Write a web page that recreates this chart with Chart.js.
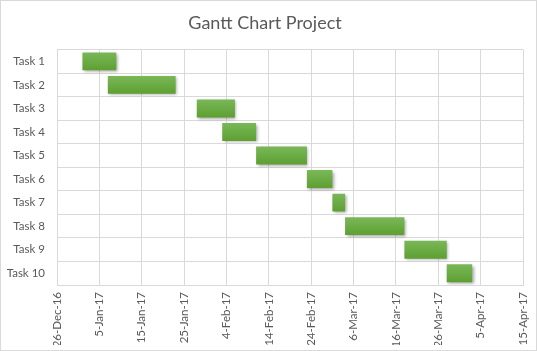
<!DOCTYPE html>
<html>
<head>
<meta charset="utf-8">
<script src="https://cdn.jsdelivr.net/npm/chart.js@4"></script>
<style>
  html, body { margin: 0; padding: 0; background: #ffffff; }
  #wrap { width: 537px; height: 351px; position: relative; }
</style>
</head>
<body>
<div id="wrap"><canvas id="ganttChart"></canvas></div>
<script>
// Gantt data
const tasks = ['Task 1', 'Task 2', 'Task 3', 'Task 4', 'Task 5', 'Task 6', 'Task 7', 'Task 8', 'Task 9', 'Task 10'];
const startDates = ['2017-01-01', '2017-01-07', '2017-01-28', '2017-02-03', '2017-02-11',
                    '2017-02-23', '2017-03-01', '2017-03-04', '2017-03-18', '2017-03-28'];
const durations = [8, 16, 9, 8, 12, 6, 3, 14, 10, 6];
const axisStart = '2016-12-26';
const axisEnd = '2017-04-15';
const tickStepDays = 10;

const DAY = 86400000;
const months = ['Jan', 'Feb', 'Mar', 'Apr', 'May', 'Jun', 'Jul', 'Aug', 'Sep', 'Oct', 'Nov', 'Dec'];

function toDay(s) {
    return (Date.parse(s + 'T00:00:00Z') - Date.parse(axisStart + 'T00:00:00Z')) / DAY;
}

function fmtDay(n) {
    const d = new Date(Date.parse(axisStart + 'T00:00:00Z') + n * DAY);
    return d.getUTCDate() + '-' + months[d.getUTCMonth()] + '-' + String(d.getUTCFullYear()).slice(2);
}

const ranges = startDates.map(function(s, i) {
    const a = toDay(s);
    return [a, a + durations[i]];
});

// frame around the whole chart plus a soft shadow under the bars
const framePlugin = {
    id: 'frame',
    beforeDraw: function(chart) {
        const ctx = chart.ctx;
        ctx.save();
        ctx.fillStyle = '#ffffff';
        ctx.fillRect(0, 0, chart.width, chart.height);
        ctx.strokeStyle = '#d9d9d9';
        ctx.lineWidth = 1;
        ctx.strokeRect(0.5, 0.5, chart.width - 1, chart.height - 1);
        ctx.restore();
    },
    beforeDatasetsDraw: function(chart) {
        const ctx = chart.ctx;
        ctx.save();
        ctx.shadowColor = 'rgba(0, 0, 0, 0.35)';
        ctx.shadowBlur = 3;
        ctx.shadowOffsetX = 1.5;
        ctx.shadowOffsetY = 1.5;
    },
    afterDatasetsDraw: function(chart) {
        chart.ctx.restore();
    }
};

function barFill(context) {
    const chart = context.chart;
    if (!chart.chartArea || !chart.scales.y) return '#6aab3f';
    const yScale = chart.scales.y;
    const c = yScale.getPixelForValue(context.dataIndex);
    const h = 10;
    const g = chart.ctx.createLinearGradient(0, c - h, 0, c + h);
    g.addColorStop(0, '#7bb95a');
    g.addColorStop(1, '#5c9e2f');
    return g;
}

const ganttCtx = document.getElementById('ganttChart');
new Chart(ganttCtx, {
    type: 'bar',
    data: {
        labels: tasks,
        datasets: [{
            label: 'Duration',
            data: ranges,
            backgroundColor: barFill,
            borderWidth: 0,
            borderSkipped: false,
            barPercentage: 0.76,
            categoryPercentage: 1
        }]
    },
    options: {
        indexAxis: 'y',
        responsive: true,
        maintainAspectRatio: false,
        animation: false,
        layout: {
            padding: { left: 7, right: 14, top: 4, bottom: 6 }
        },
        scales: {
            x: {
                type: 'linear',
                min: 0,
                max: toDay(axisEnd),
                afterFit: function(scale) {
                    scale.height = 60;
                    scale.paddingLeft = 0;
                    scale.paddingRight = 0;
                },
                ticks: {
                    stepSize: tickStepDays,
                    minRotation: 90,
                    maxRotation: 90,
                    padding: 7,
                    color: '#595959',
                    font: { family: 'Lato', size: 11.5 },
                    callback: function(v) { return fmtDay(v); }
                },
                grid: { color: '#d9d9d9', drawTicks: false },
                border: { color: '#d9d9d9' }
            },
            y: {
                afterFit: function(scale) { scale.width = 50; },
                ticks: {
                    padding: 12,
                    color: '#595959',
                    font: { family: 'Lato', size: 11.5 }
                },
                grid: { color: '#d9d9d9', drawTicks: false },
                border: { color: '#d9d9d9' }
            }
        },
        plugins: {
            legend: { display: false },
            tooltip: { enabled: false },
            title: {
                display: true,
                text: 'Gantt Chart Project',
                color: '#595959',
                font: { family: 'Lato', size: 18, weight: 'normal' },
                padding: { top: 8, bottom: 16 }
            }
        }
    },
    plugins: [framePlugin]
});
</script>
</body>
</html>
